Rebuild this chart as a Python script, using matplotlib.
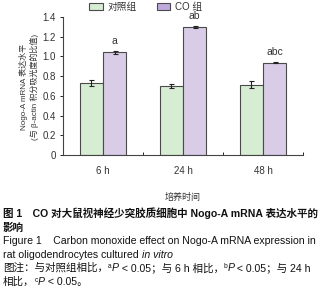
import matplotlib
matplotlib.use("Agg")
import matplotlib.pyplot as plt
import numpy as np

plt.rcParams["font.family"] = ["Liberation Sans", "Noto Sans CJK SC", "DejaVu Sans"]

# data
groups = ["6 h", "24 h", "48 h"]
series = ["对照组", "CO 组"]
control_vals = [0.73, 0.70, 0.715]
control_err = [0.03, 0.025, 0.035]
co_vals = [1.04, 1.30, 0.935]
co_err = [0.015, 0.008, 0.005]
co_marks = ["a", "ab", "abc"]
yticks = [0, 0.2, 0.4, 0.6, 0.8, 1.0, 1.2, 1.4]
ytick_labels = ["0", "0.2", "0.4", "0.6", "0.8", "1.0", "1.2", "1.4"]

GREEN = "#d6ecd3"
PURPLE = "#d8cce6"
EDGE = "#4a4a4a"
TXT = "#333333"

fig = plt.figure(figsize=(3.34, 3.0), dpi=100)
ax = fig.add_axes([63 / 334, 1 - 155 / 300, 240 / 334, 138 / 300])

x = np.arange(len(groups))
w = 0.29
ekw = dict(elinewidth=0.8, capsize=1.8, capthick=0.8, ecolor="#222222")
ax.bar(x - w / 2, control_vals, w, yerr=control_err, color=GREEN, edgecolor=EDGE,
       linewidth=0.8, error_kw=ekw, label=series[0])
ax.bar(x + w / 2, co_vals, w, yerr=co_err, color=PURPLE, edgecolor=EDGE,
       linewidth=0.8, error_kw=ekw, label=series[1])
for xi, v, e, m in zip(x, co_vals, co_err, co_marks):
    ax.text(xi + w / 2, v + e + 0.05, m, ha="center", va="bottom", fontsize=7.5, color=TXT)

ax.set_xlim(-0.5, 2.5)
ax.set_ylim(0, 1.4)
ax.set_yticks(yticks)
ax.set_yticklabels(ytick_labels)
ax.set_xticks(x)
ax.set_xticklabels(groups)
ax.set_xticks([0.5, 1.5, 2.5], minor=True)
ax.tick_params(axis="x", which="major", length=0, pad=8, labelsize=7, labelcolor=TXT)
ax.tick_params(axis="x", which="minor", length=2, direction="in", width=0.6)
ax.tick_params(axis="y", length=2, width=0.6, pad=3, labelsize=7, labelcolor=TXT)
for s in ["top", "right"]:
    ax.spines[s].set_visible(False)
for s in ["left", "bottom"]:
    ax.spines[s].set_linewidth(0.8)
    ax.spines[s].set_color("#444444")

ax.set_xlabel("培养时间", fontsize=6.5, color=TXT, labelpad=12)
fig.text(29 / 334, 1 - 87 / 300, "Nogo-A mRNA 表达水平\n(与 β-actin 积分吸光度的比值)",
         rotation=90, ha="center", va="center", multialignment="center",
         fontsize=5.8, linespacing=1.2, color=TXT)

leg = ax.legend(loc="lower left", bbox_to_anchor=(0.09, 1.0), ncol=2, frameon=False,
                fontsize=7, handlelength=1.4, handleheight=0.8, columnspacing=2.0,
                handletextpad=0.5, borderaxespad=0.1, labelcolor=TXT)
leg.legend_handles[1].set_facecolor("#bfa9de")

# caption, built from segments so that italics and superscripts sit on one line
renderer = fig.canvas.get_renderer()
CJK = ["Liberation Sans", "Noto Sans CJK SC", "DejaVu Sans"]


def line(y, parts, x0=3):
    xp = x0
    for s, kw in parts:
        kw = dict(kw)
        dy = kw.pop("dy", 0)
        t = fig.text(xp / 334, 1 - (y - dy) / 300, s, va="baseline", ha="left",
                     family=CJK, color="#111111", **kw)
        xp = t.get_window_extent(renderer).x1 * 334 / fig.bbox.width


fs = 7.6
b = dict(fontsize=fs, fontweight="bold")
n = dict(fontsize=fs)
it = dict(fontsize=fs, style="italic")
sup = dict(fontsize=4.8, dy=3.5)

line(217, [("图 1　CO 对大鼠视神经少突胶质细胞中 Nogo-A mRNA 表达水平的", b)])
line(231, [("影响", b)])
line(244, [("Figure 1    Carbon monoxide effect on Nogo-A mRNA expression in", n)])
line(258, [("rat oligodendrocytes cultured ", n), ("in vitro", it)])
line(271, [("图注：与对照组相比，", n), ("a", sup), ("P", it), (" < 0.05；与 6 h 相比，", n),
           ("b", sup), ("P", it), (" < 0.05；与 24 h", n)])
line(285, [("相比，", n), ("c", sup), ("P", it), (" < 0.05。", n)])

fig.savefig("out.png", dpi=100)
